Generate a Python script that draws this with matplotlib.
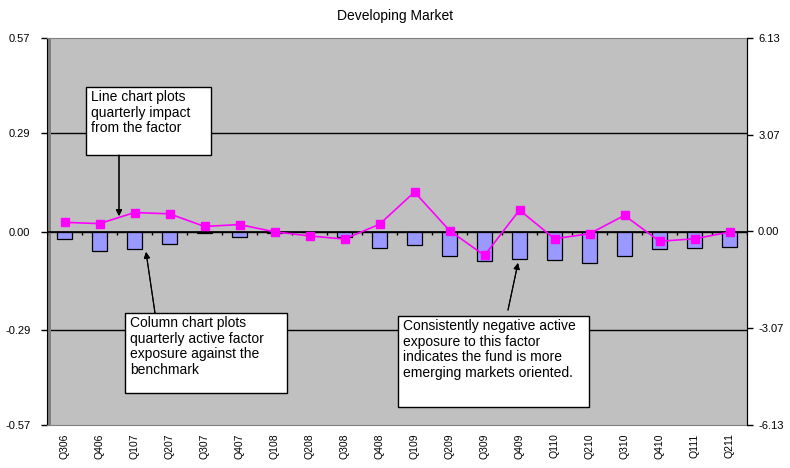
import numpy as np
import matplotlib.pyplot as plt
from matplotlib.patches import Rectangle

plt.rcParams['font.family'] = ['Liberation Sans Narrow', 'Liberation Sans', 'DejaVu Sans']

quarters = ["Q306", "Q406", "Q107", "Q207", "Q307", "Q407", "Q108", "Q208", "Q308", "Q408",
            "Q109", "Q209", "Q309", "Q409", "Q110", "Q210", "Q310", "Q410", "Q111", "Q211"]

# active factor exposure (columns, left axis)
exposure = [-0.023, -0.057, -0.052, -0.038, -0.005, -0.016, -0.003, -0.002, -0.017, -0.048,
            -0.041, -0.071, -0.086, -0.082, -0.085, -0.092, -0.071, -0.053, -0.049, -0.045]

# quarterly impact from the factor (line, right axis)
impact = [0.29, 0.25, 0.60, 0.56, 0.16, 0.22, -0.01, -0.14, -0.24, 0.23,
          1.25, 0.03, -0.76, 0.68, -0.23, -0.07, 0.51, -0.31, -0.23, -0.02]

left_ticks = [0.57, 0.29, 0.00, -0.29, -0.57]
right_ticks = [6.13, 3.07, 0.00, -3.07, -6.13]

W, H = 790, 468
fig = plt.figure(figsize=(W / 100, H / 100), dpi=100)
ax = fig.add_axes([47 / W, 1 - 425 / H, 700 / W, 387 / H])
ax.set_facecolor('#C0C0C0')

x = np.arange(len(quarters))
ax.set_xlim(-0.5, len(quarters) - 0.5)
ax.set_ylim(-0.57, 0.57)

# gridlines at the major levels
for v in left_ticks[1:-1]:
    ax.axhline(v, color='black', lw=1, zorder=1)

ax.bar(x, exposure, width=0.43, color='#9999FF', edgecolor='black', lw=0.9, zorder=2)

# zero line with category ticks
ax.axhline(0, color='black', lw=1.2, zorder=3)
ax.vlines(np.arange(len(quarters) + 1) - 0.5, -0.009, 0, color='black', lw=1, zorder=3)

# shaded wall edge on the left
ax.axvspan(-0.5, -0.4, color='#808080', lw=0, zorder=1)

ax.set_yticks(left_ticks)
ax.set_yticklabels([f"{v:.2f}" for v in left_ticks], fontsize=8)
ax.set_xticks(x)
ax.set_xticklabels(quarters, rotation=90, fontsize=7.5)
ax.tick_params(axis='x', length=0, pad=6)
ax.tick_params(axis='y', length=4, width=1, direction='out', pad=8)

for side in ['top', 'bottom']:
    ax.spines[side].set_color('#808080')
ax.spines['left'].set_color('black')
ax.spines['right'].set_color('black')

ax2 = ax.twinx()
ax2.set_ylim(-6.13, 6.13)
ax2.plot(x, impact, color='#FF00FF', lw=1.2, marker='s', markersize=5.5,
         markerfacecolor='#FF00FF', markeredgecolor='#FF00FF', zorder=4)
ax2.set_yticks(right_ticks)
ax2.set_yticklabels([f"{v:.2f}" for v in right_ticks], fontsize=8)
ax2.tick_params(axis='y', length=4, width=1, direction='out', pad=4)
for side in ['top', 'bottom', 'left']:
    ax2.spines[side].set_visible(False)
ax2.spines['right'].set_color('black')

fig.text(395 / W, 1 - 16 / H, "Developing Market", ha='center', va='center', fontsize=10)


def px(xp, yp):
    return (xp / W, 1 - yp / H)


def note_box(x0, y0, x1, y1, text):
    fig.add_artist(Rectangle(px(x0, y1), (x1 - x0) / W, (y1 - y0) / H,
                             transform=fig.transFigure, facecolor='white',
                             edgecolor='black', lw=1, zorder=6))
    fig.text(*px(x0 + 5, y0 + 3), text, ha='left', va='top', fontsize=10,
             linespacing=1.15, zorder=7)


def note_arrow(start, end):
    fig.add_artist(plt.annotate('', xy=px(*end), xytext=px(*start),
                                xycoords='figure fraction', textcoords='figure fraction',
                                arrowprops=dict(arrowstyle='-|>', color='black', lw=0.8,
                                                mutation_scale=9, shrinkA=0, shrinkB=0),
                                annotation_clip=False, zorder=7))


note_box(86, 87, 211, 155, "Line chart plots\nquarterly impact\nfrom the factor")
note_arrow((119, 155), (119, 216))

note_box(125, 313, 287, 393, "Column chart plots\nquarterly active factor\nexposure against the\nbenchmark")
note_arrow((155, 313), (146, 252))

note_box(398, 316, 589, 407, "Consistently negative active\nexposure to this factor\nindicates the fund is more\nemerging markets oriented.")
note_arrow((508, 310), (518, 263))

fig.savefig("out.png", dpi=100)
